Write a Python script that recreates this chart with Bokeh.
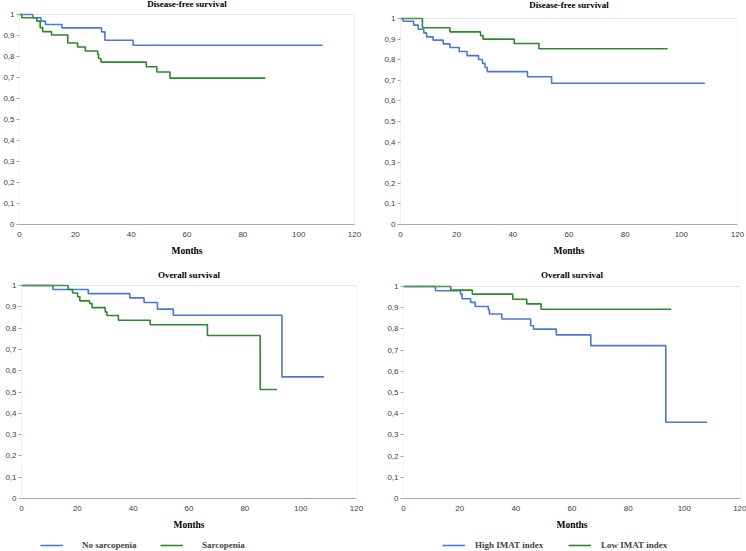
from bokeh.plotting import figure
from bokeh.layouts import column, row
from bokeh.models import Range1d, FixedTicker, Legend, LegendItem, Label, BoxAnnotation
from bokeh.embed import file_html
from bokeh.resources import INLINE

# ---------------- data (months, survival probability) ----------------
x_ticks = [0, 20, 40, 60, 80, 100, 120]
y_ticks = [0, 0.1, 0.2, 0.3, 0.4, 0.5, 0.6, 0.7, 0.8, 0.9, 1.0]
y_tick_labels = ["0", "0,1", "0,2", "0,3", "0,4", "0,5", "0,6", "0,7", "0,8", "0,9", "1"]

# Disease-free survival, sarcopenia
dfs_nosarc_t = [0, 4.8, 7.7, 9.3, 15.2, 29.4, 30.6, 40.7, 108.6]
dfs_nosarc_s = [1, 0.984, 0.968, 0.952, 0.936, 0.917, 0.877, 0.853, 0.853]
dfs_sarc_t = [0, 0.8, 6.2, 7.4, 8.3, 11.5, 17.3, 20.8, 23.6, 28.0, 28.3, 29.2, 45.4, 49.2, 53.9, 88.1]
dfs_sarc_s = [1, 0.984, 0.968, 0.937, 0.918, 0.902, 0.864, 0.845, 0.826, 0.811, 0.790, 0.773, 0.751, 0.726, 0.697, 0.697]

# Disease-free survival, IMAT index
dfs_high_t = [0, 0.9, 4.7, 6.3, 8.3, 9.3, 11.6, 15.2, 17.6, 20.9, 23.7, 27.8, 29.2, 30.1, 30.9, 45.2, 53.8, 108.4]
dfs_high_s = [1, 0.987, 0.968, 0.948, 0.930, 0.911, 0.895, 0.877, 0.859, 0.840, 0.820, 0.801, 0.782, 0.762, 0.742, 0.717, 0.686, 0.686]
dfs_low_t = [0, 7.8, 17.6, 28.5, 29.4, 40.5, 49.3, 95.1]
dfs_low_s = [1, 0.955, 0.935, 0.917, 0.900, 0.879, 0.853, 0.853]

# Overall survival, sarcopenia
os_nosarc_t = [0, 11.3, 23.9, 38.8, 43.9, 48.7, 54.4, 93.3, 108.4]
os_nosarc_s = [1, 0.981, 0.962, 0.942, 0.920, 0.889, 0.860, 0.571, 0.571]
os_sarc_t = [0, 16.7, 18.3, 20.1, 20.9, 24.4, 25.3, 30.0, 30.6, 34.7, 46.1, 66.6, 85.5, 91.5]
os_sarc_s = [1, 0.981, 0.965, 0.947, 0.928, 0.915, 0.896, 0.876, 0.859, 0.837, 0.816, 0.765, 0.512, 0.512]

# Overall survival, IMAT index
os_high_t = [0, 11.4, 20.3, 20.9, 23.9, 25.5, 30.2, 30.6, 35.0, 45.3, 46.3, 54.4, 66.7, 93.4, 108.1]
os_high_s = [1, 0.980, 0.964, 0.942, 0.925, 0.906, 0.890, 0.870, 0.847, 0.815, 0.799, 0.772, 0.721, 0.360, 0.360]
os_low_t = [0, 16.8, 24.5, 38.9, 43.9, 49.0, 95.3]
os_low_s = [1, 0.983, 0.964, 0.940, 0.918, 0.893, 0.893]

legend_left = ["No sarcopenia", "Sarcopenia"]
legend_right = ["High IMAT index", "Low IMAT index"]

BLUE = "#4a78d6"
GREEN = "#2b8a2b"
BOX = "#a6a6a6"
SERIF = "Liberation Serif"
SANS = "Liberation Sans"


def panel(title, w, h, bl, br, bb, top_px, title_px, blue, green):
    # frame spans from the canvas top down to the x axis; value 1 sits top_px below the top
    hf = h - bb
    ymax = hf / (hf - top_px)
    p = figure(width=w, height=h, output_backend="svg", toolbar_location=None,
               x_range=Range1d(0, 120), y_range=Range1d(0, ymax),
               min_border_left=bl, min_border_right=br,
               min_border_top=0, min_border_bottom=bb)
    p.grid.visible = False
    p.outline_line_color = None
    p.background_fill_color = "white"
    p.border_fill_color = "white"
    p.add_layout(BoxAnnotation(left=0, right=120, bottom=0, top=1,
                               fill_alpha=0, line_color=BOX, line_width=1))

    xa = p.below[0]
    ya = p.left[0]
    xa.ticker = FixedTicker(ticks=x_ticks)
    ya.ticker = FixedTicker(ticks=y_ticks)
    ya.major_label_overrides = {t: l for t, l in zip(y_ticks, y_tick_labels)}
    for ax in (xa, ya):
        ax.axis_line_color = BOX
        ax.major_tick_line_color = BOX
        ax.major_tick_in = 0
        ax.major_tick_out = 3
        ax.minor_tick_line_color = None
        ax.major_label_text_font = SANS
        ax.major_label_text_font_size = "8px"
        ax.major_label_text_color = "#404040"
        ax.major_label_standoff = 2
    ya.axis_line_color = None
    xa.major_tick_line_color = None
    xa.major_label_standoff = 4
    xa.axis_label = "Months"
    xa.axis_label_text_font = SERIF
    xa.axis_label_text_font_size = "9.5px"
    xa.axis_label_text_font_style = "bold"
    xa.axis_label_text_color = "#000000"
    xa.axis_label_standoff = 6

    ytitle = ymax * (1 - title_px / hf)
    p.add_layout(Label(x=60, y=ytitle, text=title, text_align="center",
                       text_baseline="middle", text_font=SERIF, text_font_size="9px",
                       text_font_style="bold", text_color="#000000"))

    p.step(blue[0], blue[1], mode="after", line_color=BLUE, line_width=1.6)
    p.step(green[0], green[1], mode="after", line_color=GREEN, line_width=1.6)
    return p


def legend_fig(w, labels, xs, standoff):
    lf = figure(width=w, height=18, output_backend="svg", toolbar_location=None,
                x_axis_location=None, y_axis_location=None,
                x_range=Range1d(0, 1), y_range=Range1d(0, 1),
                min_border_left=0, min_border_right=0, min_border_top=0, min_border_bottom=0)
    lf.grid.visible = False
    lf.outline_line_color = None
    rb = lf.line([5, 6], [5, 5], line_color=BLUE, line_width=1.6)
    rg = lf.line([5, 6], [5, 5], line_color=GREEN, line_width=1.6)
    for r, lab, x in zip((rb, rg), labels, xs):
        leg = Legend(items=[LegendItem(label=lab, renderers=[r])],
                     location=(x, 1), glyph_width=23, glyph_height=8,
                     label_standoff=standoff, padding=0, margin=0,
                     border_line_color=None, background_fill_alpha=0,
                     label_text_font=SERIF, label_text_font_style="bold",
                     label_text_font_size="9px", label_height=9)
        lf.add_layout(leg, "center")
    return lf


p1 = panel("Disease-free survival", 373, 270, 18, 19, 45, 14, 4,
           (dfs_nosarc_t, dfs_nosarc_s), (dfs_sarc_t, dfs_sarc_s))
p2 = panel("Disease-free survival", 373, 270, 27, 9, 46, 18, 4,
           (dfs_high_t, dfs_high_s), (dfs_low_t, dfs_low_s))
p3 = panel("Overall survival", 373, 263, 21, 17, 35, 15, 4,
           (os_nosarc_t, os_nosarc_s), (os_sarc_t, os_sarc_s))
p4 = panel("Overall survival", 373, 263, 30, 6, 35, 16, 4,
           (os_high_t, os_high_s), (os_low_t, os_low_s))

l3 = legend_fig(373, legend_left, [40, 160], 19)
l4 = legend_fig(373, legend_right, [69, 195], 10)

layout = column(row(p1, p2), row(p3, p4), row(l3, l4))
open("out.html", "w").write(file_html(layout, INLINE))
